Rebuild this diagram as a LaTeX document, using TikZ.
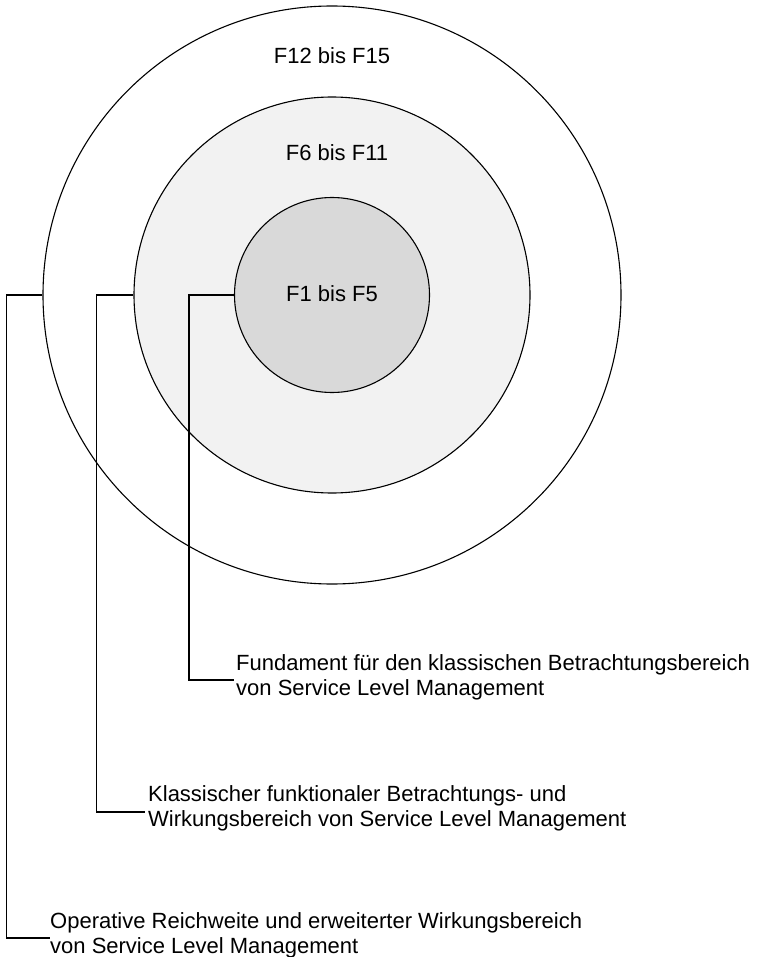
\documentclass[tikz,border=0pt]{standalone}
\usepackage{fontspec}
\setmainfont{Liberation Sans}
\usetikzlibrary{calc}
\definecolor{ringmid}{HTML}{F2F2F2}
\definecolor{ringcore}{HTML}{D9D9D9}
\begin{document}
\begin{tikzpicture}[x=1pt,y=-1pt,
  ring/.style={circle,draw=black,line width=1.1pt,inner sep=0pt},
  lead/.style={draw=black,line width=1.1pt},
  ringtext/.style={font=\fontsize{22}{25}\selectfont,inner sep=0pt},
  note/.style={font=\fontsize{22}{25}\selectfont,align=left,inner sep=0pt,anchor=north west}]
\useasboundingbox (0,0) rectangle (770,957);

% nested scopes of the service catalogue
\node[ring,fill=white,minimum size=578pt] (outer) at (332,295) {};
\node[ring,fill=ringmid,minimum size=396pt] (middle) at (332,295) {};
\node[ring,fill=ringcore,minimum size=195pt] (core) at (332,295) {};

\node[ringtext] (touter) at (332,56) {F12 bis F15};
\node[ringtext] (tmiddle) at (337,153) {F6 bis F11};
\node[ringtext] (tcore) at (332,294) {F1 bis F5};

% ends of the leader lines
\coordinate (k1) at (234,680);
\coordinate (k2) at (145,812);
\coordinate (k3) at (50,938);

\node[note] (n1) at ($(k1)+(2,-26)$) {Fundament für den klassischen Betrachtungsbereich\\von Service Level Management};
\node[note] (n2) at ($(k2)+(3,-27)$) {Klassischer funktionaler Betrachtungs- und\\Wirkungsbereich von Service Level Management};
\node[note] (n3) at ($(k3)+(0,-26)$) {Operative Reichweite und erweiterter Wirkungsbereich\\von Service Level Management};

% leader lines from each ring to its description
\draw[lead] (core.west) -- ++(-45,0) |- (k1);
\draw[lead] (middle.west) -- ++(-37,0) |- (k2);
\draw[lead] (outer.west) -- ++(-36,0) |- (k3);
\end{tikzpicture}
\end{document}
